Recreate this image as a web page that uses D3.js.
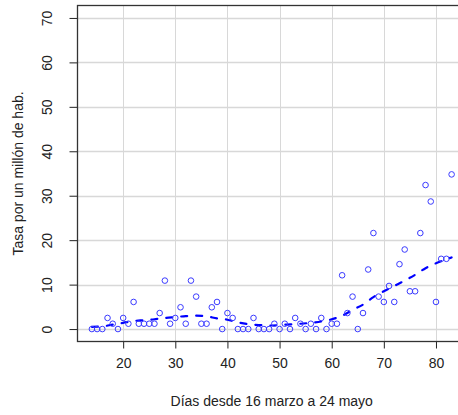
<!DOCTYPE html>
<html>
<head>
<meta charset="utf-8">
<script src="https://cdn.jsdelivr.net/npm/d3@7"></script>
<style>
  html, body { margin: 0; padding: 0; background: #fff; }
  svg { display: block; }
  text { font-family: "Liberation Sans", Arial, sans-serif; fill: #222; }
</style>
</head>
<body>
<div id="chart"></div>
<script>
// ---- Data ----
const days = [14,15,16,17,18,19,20,21,22,23,24,25,26,27,28,29,30,31,32,33,34,35,36,37,38,39,40,41,42,43,44,45,46,47,48,49,50,51,52,53,54,55,56,57,58,59,60,61,62,63,64,65,66,67,68,69,70,71,72,73,74,75,76,77,78,79,80,81,82,83];
const rates = [0,0,0,2.5,1.2,0,2.5,1.2,6.1,1.2,1.2,1.2,1.2,3.6,10.9,1.2,2.5,4.9,1.2,10.9,7.3,1.2,1.2,4.9,6.1,0,3.6,2.5,0,0,0,2.5,0,0,0,1.2,0,1.2,0,2.5,1.2,0,1.2,0,2.5,0,1.2,1.2,12.1,3.6,7.3,0,3.6,13.4,21.6,7.3,6.1,9.7,6.1,14.6,17.9,8.5,8.5,21.6,32.4,28.7,6.1,15.8,15.8,34.8];
// smoothed trend (dashed line) read at selected days
const smoothDays = [14,16,18,20,22,24,26,28,30,32,34,36,38,40,42,44,46,48,50,52,54,56,58,60,62,64,66,68,70,72,74,76,78,80,82,83];
const smoothVals = [0.5,0.6,1.0,1.4,1.8,2.0,2.2,2.5,2.7,2.9,3.0,2.85,2.4,2.1,1.5,1.1,0.9,0.8,0.9,1.05,1.2,1.4,1.7,2.2,3.0,4.3,5.5,7.2,8.5,9.7,10.9,12.2,13.7,14.8,15.7,16.1];
const xTicks = [20,30,40,50,60,70,80];
const yTicks = [0,10,20,30,40,50,60,70];
const xLabel = "Días desde 16 marzo a 24 mayo";
const yLabel = "Tasa por un millón de hab.";

// ---- Layout ----
const W = 458, H = 415;
const plot = { left: 77.5, right: 466, top: 5.5, bottom: 341.5 };

const svg = d3.select("#chart").append("svg")
  .attr("width", W).attr("height", H);

const x = d3.scaleLinear().domain([11.24, 85.76]).range([plot.left, plot.right]);
const y = d3.scaleLinear().domain([-2.8, 72.8]).range([plot.bottom, plot.top]);

// grid
const grid = svg.append("g");
grid.selectAll("line.v").data(xTicks).join("line")
  .attr("x1", d => Math.round(x(d)) + 0.5).attr("x2", d => Math.round(x(d)) + 0.5)
  .attr("y1", plot.top).attr("y2", plot.bottom)
  .attr("stroke", "#d8d8d8").attr("stroke-width", 1);
grid.selectAll("line.h").data(yTicks).join("line")
  .attr("y1", d => Math.round(y(d)) + 0.5).attr("y2", d => Math.round(y(d)) + 0.5)
  .attr("x1", plot.left).attr("x2", plot.right)
  .attr("stroke", "#d8d8d8").attr("stroke-width", 1.3);

// axes
const xAxis = d3.axisBottom(x).tickValues(xTicks).tickSize(7).tickPadding(10).tickFormat(d3.format("d"));
const gx = svg.append("g").attr("transform", `translate(0,${plot.bottom})`).call(xAxis);
gx.select(".domain").remove();
gx.selectAll("line").attr("stroke", "#222");
gx.selectAll("text").attr("font-size", 14).style("font-family", "'Liberation Sans', Arial, sans-serif").attr("fill", "#222");

const yAxis = d3.axisLeft(y).tickValues(yTicks).tickSize(8).tickPadding(0).tickFormat(d3.format("d"));
const gy = svg.append("g").attr("transform", `translate(${plot.left},0)`).call(yAxis);
gy.select(".domain").remove();
gy.selectAll("line").attr("stroke", "#222");
gy.selectAll("text")
  .attr("font-size", 14).style("font-family", "'Liberation Sans', Arial, sans-serif").attr("fill", "#222")
  .attr("text-anchor", "middle").attr("dy", null).attr("x", null)
  .attr("transform", "translate(-26,0) rotate(-90)")
  .attr("dy", "0.0em");

// box
svg.append("rect")
  .attr("x", plot.left).attr("y", plot.top)
  .attr("width", plot.right - plot.left).attr("height", plot.bottom - plot.top)
  .attr("fill", "none").attr("stroke", "#333").attr("stroke-width", 1.3);

// smooth dashed line
const line = d3.line().x((d, i) => x(smoothDays[i])).y(d => y(d)).curve(d3.curveCatmullRom);
svg.append("path").datum(smoothVals)
  .attr("d", line)
  .attr("fill", "none").attr("stroke", "#0000ff").attr("stroke-width", 2.2)
  .attr("stroke-dasharray", "6,9").attr("stroke-linecap", "round");

// points
svg.append("g").selectAll("circle").data(rates).join("circle")
  .attr("cx", (d, i) => x(days[i])).attr("cy", d => y(d))
  .attr("r", 2.8)
  .attr("fill", "none").attr("stroke", "#3b3bff").attr("stroke-width", 1);

// axis titles
svg.append("text")
  .attr("x", (plot.left + plot.right) / 2).attr("y", 406)
  .attr("text-anchor", "middle").attr("font-size", 14)
  .text(xLabel);
svg.append("text")
  .attr("transform", `translate(23,${(plot.top + plot.bottom) / 2}) rotate(-90)`)
  .attr("text-anchor", "middle").attr("font-size", 14)
  .text(yLabel);
</script>
</body>
</html>
